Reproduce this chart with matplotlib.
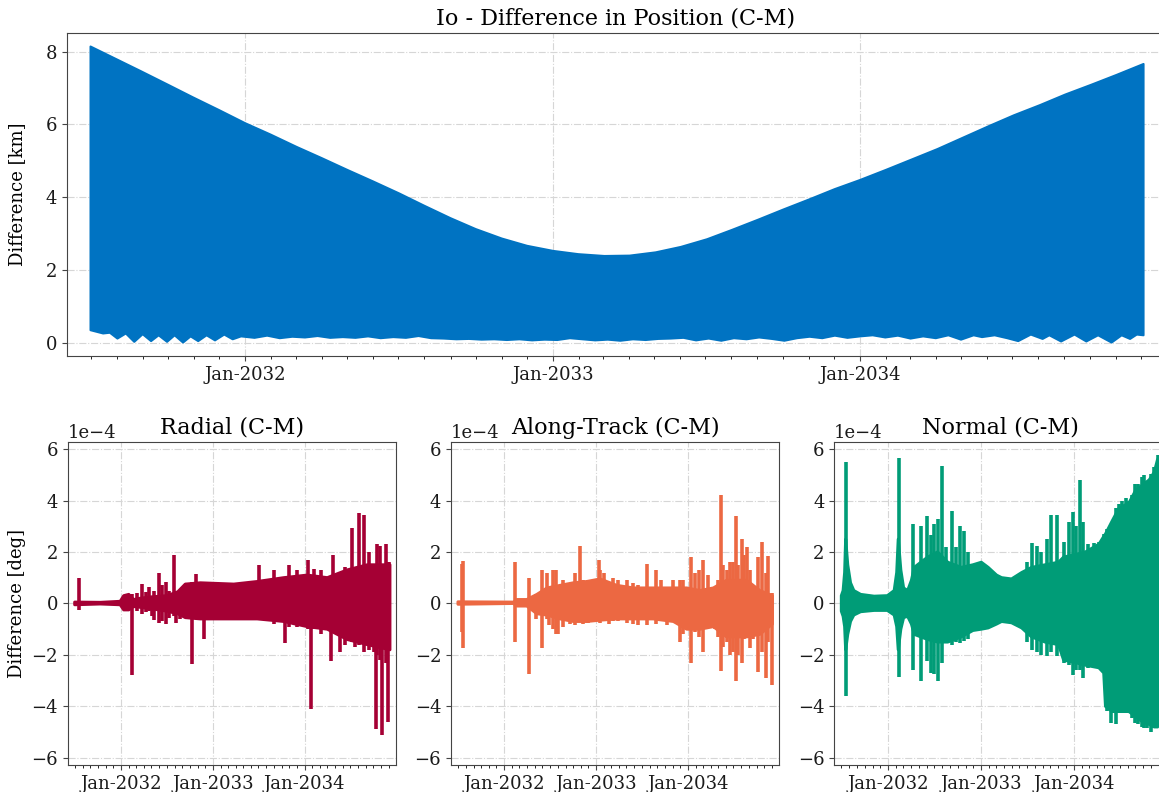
import numpy as np
import matplotlib
matplotlib.use('Agg')
import matplotlib.pyplot as plt
import matplotlib.dates as mdates
from matplotlib.ticker import MultipleLocator

plt.rcParams['font.family'] = ['DejaVu Serif']
plt.rcParams['font.size'] = 13

# epoch of the comparison, every time array below is in days since it
T0 = np.datetime64('2031-07-01')
SCALE = 1e-4

# position difference |C - M| [km]: upper and lower envelope of the orbit-period signal
pos_hi_day = [0, 30, 60, 92, 122, 153, 184, 214, 245, 275, 306, 336, 367, 397, 428, 458,
              489, 519, 550, 580, 611, 641, 672, 702, 733, 763, 794, 824, 855, 885, 915,
              946, 976, 1007, 1037, 1068, 1098, 1129, 1159, 1190, 1220, 1252]
pos_hi = [8.14, 7.80, 7.46, 7.09, 6.74, 6.39, 6.03, 5.72, 5.38, 5.07, 4.74, 4.43, 4.10, 3.76,
          3.42, 3.12, 2.86, 2.66, 2.52, 2.43, 2.38, 2.39, 2.48, 2.63, 2.84, 3.10, 3.38, 3.66,
          3.94, 4.22, 4.47, 4.75, 5.03, 5.32, 5.63, 5.95, 6.25, 6.53, 6.82, 7.09, 7.36, 7.66]
pos_lo_day = [0, 15, 23, 32, 42, 52, 62, 72, 81, 91, 100, 110, 119, 128, 138, 148, 159, 169,
              179, 195, 210, 225, 240, 255, 270, 285, 300, 315, 330, 345, 360, 375, 390, 405,
              420, 435, 450, 465, 480, 495, 510, 525, 540, 555, 570, 585, 600, 615, 630, 645,
              660, 675, 690, 705, 720, 735, 750, 765, 780, 795, 810, 825, 840, 855, 870, 885,
              900, 915, 930, 945, 960, 975, 990, 1005, 1020, 1035, 1050, 1060, 1075, 1090,
              1103, 1118, 1132, 1140, 1154, 1170, 1184, 1198, 1214, 1226, 1236, 1244, 1252]
pos_lo = [0.34, 0.25, 0.27, 0.11, 0.25, 0.02, 0.23, 0.04, 0.20, 0.02, 0.20, 0.00, 0.17, 0.04,
          0.20, 0.06, 0.22, 0.09, 0.17, 0.13, 0.19, 0.12, 0.16, 0.14, 0.18, 0.13, 0.15, 0.13,
          0.17, 0.12, 0.15, 0.13, 0.18, 0.12, 0.11, 0.09, 0.10, 0.08, 0.09, 0.07, 0.09, 0.06,
          0.08, 0.07, 0.12, 0.09, 0.06, 0.08, 0.05, 0.09, 0.07, 0.10, 0.11, 0.13, 0.06, 0.11,
          0.05, 0.12, 0.09, 0.14, 0.10, 0.05, 0.12, 0.16, 0.12, 0.19, 0.13, 0.17, 0.20, 0.14,
          0.19, 0.11, 0.17, 0.12, 0.20, 0.08, 0.20, 0.15, 0.20, 0.12, 0.04, 0.22, 0.10, 0.20,
          0.03, 0.22, 0.03, 0.20, 0.00, 0.20, 0.10, 0.22, 0.20]

# RSW angular differences [1e-4 deg]: dense band (day, hi, lo) plus isolated peaks (day, hi, lo)
radial_band_day = [0, 102, 181, 195, 215, 234, 261, 301, 367, 410, 440, 500, 633, 726, 832,
                   925, 1005, 1084, 1164, 1254]
radial_band_hi = [0.05, 0.04, 0.08, 0.30, 0.35, 0.15, 0.20, 0.25, 0.30, 0.45, 0.75, 0.80,
                  0.75, 0.85, 1.00, 1.10, 1.00, 1.30, 1.50, 1.50]
radial_band_lo = [-0.05, -0.02, -0.05, -0.25, -0.25, -0.12, -0.15, -0.20, -0.30, -0.40,
                  -0.55, -0.60, -0.60, -0.60, -0.70, -0.90, -1.00, -1.40, -1.60, -1.80]
radial_peak_day = [18, 228, 248, 268, 284, 297, 308, 317, 334, 347, 363, 374, 394, 404, 420,
                   467, 484, 516, 732, 792, 835, 852, 885, 928, 941, 952, 981, 1018, 1029,
                   1055, 1075, 1104, 1115, 1131, 1151, 1170, 1190, 1197, 1204, 1215, 1224,
                   1237, 1246, 1250]
radial_peak_hi = [1.0, 0.35, 0.4, 0.75, 0.45, 0.65, 0.3, 0.5, 1.2, 0.7, 0.85, 0.5, 1.9, 0.4,
                  0.5, 0.85, 1.15, 0.8, 1.5, 1.3, 0.9, 1.5, 1.3, 1.7, 0.9, 1.35, 1.3, 1.0,
                  1.9, 1.0, 1.4, 2.95, 1.3, 3.5, 3.45, 2.0, 1.5, 1.2, 2.3, 2.25, 1.5, 2.3,
                  1.6, 1.6]
radial_peak_lo = [-0.25, -2.8, -0.3, -0.4, -0.35, -0.3, -0.5, -0.65, -0.75, -0.7, -0.8,
                  -0.55, -0.5, -0.75, -0.6, -2.35, -0.6, -1.4, -0.6, -0.8, -1.55, -0.9, -0.9,
                  -1.0, -4.1, -1.0, -1.2, -2.25, -1.1, -1.9, -1.6, -1.5, -1.7, -1.6, -1.9,
                  -1.8, -1.9, -4.9, -2.0, -2.2, -5.1, -2.3, -4.6, 0.0]

along_band_day = [0, 221, 234, 274, 314, 354, 406, 459, 512, 565, 632, 698, 777, 857, 910,
                  963, 1016, 1069, 1148, 1201, 1251]
along_band_hi = [0.06, 0.05, 0.15, 0.15, 0.35, 0.60, 0.70, 0.80, 0.85, 0.95, 0.70, 0.60,
                 0.60, 0.60, 0.60, 0.50, 0.60, 0.90, 0.90, 0.50, 0.30]
along_band_lo = [-0.03, 0.00, -0.10, -0.10, -0.40, -0.45, -0.60, -0.70, -0.70, -0.65, -0.60,
                 -0.60, -0.60, -0.70, -1.00, -1.00, -0.90, -1.30, -1.30, -1.20, -0.80]
along_peak_day = [16, 20, 228, 283, 311, 334, 354, 363, 377, 391, 397, 416, 446, 466, 486,
                  497, 519, 559, 565, 579, 599, 618, 638, 671, 698, 718, 751, 788, 807, 830,
                  857, 883, 897, 926, 943, 960, 976, 996, 1022, 1036, 1045, 1056, 1069, 1082,
                  1095, 1106, 1115, 1128, 1139, 1151, 1161, 1175, 1195, 1211, 1224, 1232, 1248]
along_peak_hi = [1.55, 1.65, 1.6, 1.0, 0.35, 1.3, 1.2, 0.6, 1.3, 1.3, 0.7, 0.9, 0.5, 1.2,
                 2.25, 0.9, 0.9, 1.7, 1.3, 1.2, 0.85, 1.0, 0.9, 0.9, 0.8, 0.7, 1.55, 1.3, 0.9,
                 0.6, 0.9, 0.9, 0.9, 1.8, 1.2, 1.3, 1.7, 1.1, 0.5, 0.9, 4.2, 1.5, 1.3, 1.6,
                 1.6, 3.4, 1.5, 2.5, 1.9, 2.2, 1.3, 0.5, 1.8, 2.4, 1.2, 1.85, 0.4]
along_peak_lo = [-1.1, -1.75, -1.5, -2.75, -0.6, -1.75, -0.6, -0.85, -1.0, -1.2, -1.2, -0.9,
                 -0.8, -0.85, -0.7, -0.8, -0.75, -0.7, -0.75, -0.7, -0.8, -0.7, -0.7, -0.75,
                 -0.8, -0.85, -0.85, -0.8, -0.65, -0.85, -0.7, -1.5, -1.2, -2.3, -1.1, -1.3,
                 -1.9, -0.9, -1.0, -1.3, -2.64, -1.7, -1.5, -2.0, -1.9, -3.03, -2.0, -2.3,
                 -1.4, -1.3, -1.75, -1.4, -2.65, -1.9, -2.9, -1.5, -3.18]

normal_band_day = [0, 7, 13, 17, 25, 36, 49, 76, 129, 181, 208, 218, 224, 234, 245, 261, 276,
                   287, 313, 340, 379, 419, 472, 518, 551, 578, 611, 631, 670, 710, 749, 802,
                   855, 875, 921, 961, 1014, 1033, 1040, 1066, 1093, 1132, 1159, 1185, 1212,
                   1232, 1245]
normal_band_hi = [0.30, 0.50, 1.20, 2.50, 1.50, 0.80, 0.50, 0.35, 0.28, 0.30, 0.50, 1.20,
                  2.50, 1.30, 0.60, 0.50, 0.90, 1.40, 1.60, 1.80, 2.00, 1.60, 1.40, 1.50,
                  1.60, 1.40, 1.10, 1.00, 0.95, 1.20, 1.40, 1.50, 1.60, 1.80, 1.90, 2.00,
                  2.30, 2.60, 2.70, 3.20, 3.70, 3.90, 4.40, 4.60, 4.80, 5.10, 5.60]
normal_band_lo = [-0.30, -0.50, -0.90, -1.80, -1.20, -0.70, -0.45, -0.32, -0.27, -0.27,
                  -0.45, -0.90, -1.80, -1.00, -0.55, -0.50, -0.80, -1.20, -1.30, -1.40,
                  -1.50, -1.50, -1.30, -1.05, -1.00, -0.95, -0.80, -0.70, -0.75, -0.95,
                  -1.30, -1.50, -1.60, -2.20, -2.30, -2.40, -2.50, -2.70, -4.00, -4.20,
                  -4.20, -4.20, -4.40, -4.60, -4.70, -4.80, -4.80]
normal_peak_day = [20, 228, 284, 313, 336, 353, 366, 382, 397, 410, 435, 452, 469, 483, 498,
                   732, 749, 769, 786, 809, 826, 848, 875, 895, 912, 925, 938, 951, 971, 994,
                   1014, 1033, 1047, 1060, 1080, 1093, 1106, 1119, 1132, 1143, 1156, 1169,
                   1183, 1192, 1205, 1218, 1232, 1245]
normal_peak_hi = [5.5, 5.65, 3.1, 3.0, 3.4, 2.65, 3.1, 3.3, 5.35, 2.2, 3.6, 2.2, 3.0, 2.8,
                  2.0, 1.6, 2.35, 2.25, 2.0, 2.5, 3.45, 3.45, 2.4, 3.15, 3.55, 3.0, 4.8, 3.15,
                  2.3, 2.35, 2.4, 2.7, 2.9, 3.05, 3.7, 3.85, 4.0, 4.1, 4.0, 4.2, 4.65, 4.65,
                  4.9, 5.0, 4.75, 5.05, 5.3, 5.75]
normal_peak_lo = [-3.6, -2.85, -2.6, -3.0, -2.25, -2.7, -2.75, -3.0, -2.3, -1.55, -1.6, -1.5,
                  -1.55, -1.45, -1.4, -1.5, -1.8, -1.9, -2.0, -2.05, -1.9, -2.05, -2.3, -2.4,
                  -2.8, -2.6, -2.6, -2.9, -2.5, -2.5, -2.5, -2.7, -4.2, -4.65, -4.7, -4.2,
                  -4.2, -4.25, -4.25, -4.45, -4.65, -4.7, -4.8, -4.85, -4.85, -5.0, -4.85,
                  -4.8]

XLIM = (np.datetime64('2031-06-03'), np.datetime64('2034-12-29'))


def to_dates(days):
    return T0 + np.asarray(days).astype('timedelta64[D]')


def style_axis(ax):
    ax.set_xlim(*XLIM)
    ax.xaxis.set_major_locator(mdates.YearLocator())
    ax.xaxis.set_minor_locator(mdates.MonthLocator())
    ax.xaxis.set_major_formatter(mdates.DateFormatter('%b-%Y'))
    ax.grid(True, which='major', linestyle='-.', linewidth=0.8, color='#d6d6d6')
    ax.set_axisbelow(True)
    for spine in ax.spines.values():
        spine.set_color('#444444')
    ax.tick_params(colors='#444444', labelcolor='#1a1a1a')


def draw_band(ax, hi_day, hi, lo_day, lo, color, lw=2.2):
    # closed outline: upper edge forward in time, lower edge back
    x = np.concatenate([to_dates(hi_day), to_dates(lo_day)[::-1]])
    y = np.concatenate([hi, np.asarray(lo)[::-1]])
    ax.fill(x, y, facecolor=color, edgecolor=color, linewidth=lw, joinstyle='round')


def draw_component(ax, band, peaks, color, title):
    bd, bh, bl = band
    pd_, ph, pl = peaks
    draw_band(ax, bd, np.asarray(bh) * SCALE, bd, np.asarray(bl) * SCALE, color)
    ax.vlines(to_dates(pd_), np.asarray(pl) * SCALE, np.asarray(ph) * SCALE,
              color=color, linewidth=2.6)
    style_axis(ax)
    ax.set_ylim(-6.28e-4, 6.28e-4)
    ax.yaxis.set_major_locator(MultipleLocator(2e-4))
    ax.ticklabel_format(axis='y', style='sci', scilimits=(-4, -4))
    ax.set_title(title, fontsize=16)


fig = plt.figure(figsize=(11.59, 7.92), dpi=100)

ax_top = fig.add_axes([0.0578, 0.5505, 0.947, 0.4082])
draw_band(ax_top, pos_hi_day, pos_hi, pos_lo_day, pos_lo, '#0073C2', lw=1.5)
style_axis(ax_top)
ax_top.set_ylim(-0.37, 8.52)
ax_top.yaxis.set_major_locator(MultipleLocator(2))
ax_top.set_ylabel('Difference [km]', labelpad=14)
ax_top.set_title('Io - Difference in Position (C-M)', fontsize=16)

bottom, height, width = 0.0341, 0.408, 0.283
ax_r = fig.add_axes([0.0584, bottom, width, height])
ax_a = fig.add_axes([0.3891, bottom, width, height])
ax_n = fig.add_axes([0.7198, bottom, width + 0.003, height])

draw_component(ax_r, (radial_band_day, radial_band_hi, radial_band_lo),
               (radial_peak_day, radial_peak_hi, radial_peak_lo), '#A50034', 'Radial (C-M)')
draw_component(ax_a, (along_band_day, along_band_hi, along_band_lo),
               (along_peak_day, along_peak_hi, along_peak_lo), '#EC6842', 'Along-Track (C-M)')
draw_component(ax_n, (normal_band_day, normal_band_hi, normal_band_lo),
               (normal_peak_day, normal_peak_hi, normal_peak_lo), '#009C77', 'Normal (C-M)')
ax_r.set_ylabel('Difference [deg]')

fig.savefig('out.png', dpi=100)
